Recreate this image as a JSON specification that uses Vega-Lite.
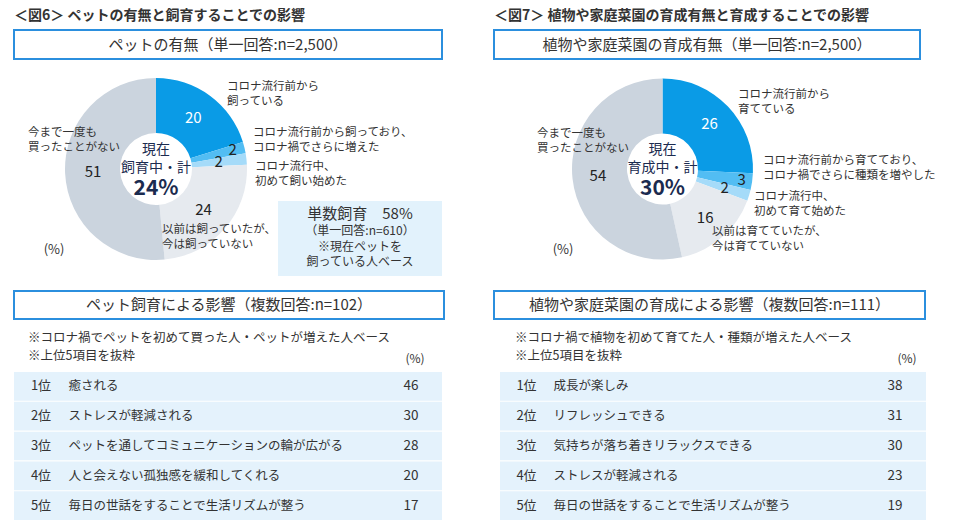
{
"$schema": "https://vega.github.io/schema/vega-lite/v6.json",
"background": "white",
"padding": {"left": 13, "top": 8, "right": 5, "bottom": 5},
"config": {
  "font": "Noto Sans CJK JP",
  "view": {"stroke": null},
  "text": {"color": "#333333"},
  "title": {"color": "#333333", "fontWeight": "normal", "fontSize": 13}
},
"datasets": {
  "pet_pie": [
    {"順序": 1, "区分": "コロナ流行前から飼っている", "割合": 20, "ラベル": "コロナ流行前から\n飼っている"},
    {"順序": 2, "区分": "コロナ流行前から飼っており、コロナ禍でさらに増えた", "割合": 2, "ラベル": "コロナ流行前から飼っており、\nコロナ禍でさらに増えた"},
    {"順序": 3, "区分": "コロナ流行中、初めて飼い始めた", "割合": 2, "ラベル": "コロナ流行中、\n初めて飼い始めた"},
    {"順序": 4, "区分": "以前は飼っていたが、今は飼っていない", "割合": 24, "ラベル": "以前は飼っていたが、\n今は飼っていない"},
    {"順序": 5, "区分": "今まで一度も買ったことがない", "割合": 51, "ラベル": "今まで一度も\n買ったことがない"}
  ],
  "plant_pie": [
    {"順序": 1, "区分": "コロナ流行前から育てている", "割合": 26, "ラベル": "コロナ流行前から\n育てている"},
    {"順序": 2, "区分": "コロナ流行前から育てており、コロナ禍でさらに種類を増やした", "割合": 3, "ラベル": "コロナ流行前から育てており、\nコロナ禍でさらに種類を増やした"},
    {"順序": 3, "区分": "コロナ流行中、初めて育て始めた", "割合": 2, "ラベル": "コロナ流行中、\n初めて育て始めた"},
    {"順序": 4, "区分": "以前は育てていたが、今は育てていない", "割合": 16, "ラベル": "以前は育てていたが、\n今は育てていない"},
    {"順序": 5, "区分": "今まで一度も買ったことがない", "割合": 54, "ラベル": "今まで一度も\n買ったことがない"}
  ],
  "pet_top5": [
    {"順位": "1位", "項目": "癒される", "割合": 46},
    {"順位": "2位", "項目": "ストレスが軽減される", "割合": 30},
    {"順位": "3位", "項目": "ペットを通してコミュニケーションの輪が広がる", "割合": 28},
    {"順位": "4位", "項目": "人と会えない孤独感を緩和してくれる", "割合": 20},
    {"順位": "5位", "項目": "毎日の世話をすることで生活リズムが整う", "割合": 17}
  ],
  "plant_top5": [
    {"順位": "1位", "項目": "成長が楽しみ", "割合": 38},
    {"順位": "2位", "項目": "リフレッシュできる", "割合": 31},
    {"順位": "3位", "項目": "気持ちが落ち着きリラックスできる", "割合": 30},
    {"順位": "4位", "項目": "ストレスが軽減される", "割合": 23},
    {"順位": "5位", "項目": "毎日の世話をすることで生活リズムが整う", "割合": 19}
  ]
},
"hconcat": [
  {
    "vconcat": [
      {
        "vconcat": [
          {
            "width": 428, "height": 29,
            "view": {"stroke": "#2b8fde", "strokeWidth": 2, "fill": "white"},
            "title": {"text": "＜図6＞ ペットの有無と飼育することでの影響", "anchor": "start", "offset": 7, "fontSize": 14, "fontWeight": "bold", "color": "#333333"},
            "data": {"values": [{"見出し": "ペットの有無（単一回答:n=2,500）"}]},
            "mark": {"type": "text", "fontSize": 15},
            "encoding": {"text": {"field": "見出し", "type": "nominal"}}
          },
          {
            "hconcat": [
              {"width": 20, "height": 214, "data": {"values": [{}]}, "mark": {"type": "text", "text": ""}},
              {
                "width": 244, "height": 214,
                "data": {"name": "pet_pie"},
                "layer": [
                  {"mark": {"type": "arc", "outerRadius": 91, "innerRadius": 36},
                   "encoding": {"theta": {"field": "割合", "type": "quantitative", "stack": true}, "order": {"field": "順序", "type": "quantitative"},
                     "color": {"field": "順序", "type": "ordinal", "scale": {"domain": [1, 2, 3, 4, 5], "range": ["#0a9be6", "#52bdf3", "#a5dbf9", "#e6eaef", "#cbd4de"]}, "legend": null}}},
                  {"mark": {"type": "text", "radius": 63, "fontSize": 15},
                   "encoding": {"theta": {"field": "割合", "type": "quantitative", "stack": true}, "order": {"field": "順序", "type": "quantitative"}, "detail": {"field": "順序", "type": "nominal"},
                     "text": {"condition": {"test": "datum['順序'] === 2", "value": ""}, "field": "割合", "type": "quantitative"},
                     "color": {"condition": {"test": "datum['順序'] === 1", "value": "#ffffff"}, "value": "#222222"}}},
                  {"mark": {"type": "text", "radius": 79, "fontSize": 15, "color": "#222222"},
                   "encoding": {"theta": {"field": "割合", "type": "quantitative", "stack": true}, "order": {"field": "順序", "type": "quantitative"}, "detail": {"field": "順序", "type": "nominal"},
                     "text": {"condition": {"test": "datum['順序'] !== 2", "value": ""}, "field": "割合", "type": "quantitative"}}},
                  {"transform": [{"stack": "割合", "groupby": [], "sort": [{"field": "順序", "order": "ascending"}], "as": ["始", "終"]}, {"filter": "datum['順序'] === 1"}],
                   "mark": {"type": "text", "radius": 100, "align": "left", "fontSize": 11.5, "lineBreak": "\n", "lineHeight": 15, "dx": 71, "dy": 18},
                   "encoding": {"theta": {"field": "始", "type": "quantitative", "stack": null}, "text": {"field": "ラベル", "type": "nominal"}}},
                  {"transform": [{"stack": "割合", "groupby": [], "sort": [{"field": "順序", "order": "ascending"}], "as": ["始", "終"]}, {"filter": "datum['順序'] === 2"}],
                   "mark": {"type": "text", "radius": 100, "align": "left", "fontSize": 11.5, "lineBreak": "\n", "lineHeight": 15, "dx": 1.5, "dy": -6.3},
                   "encoding": {"theta": {"field": "始", "type": "quantitative", "stack": null}, "text": {"field": "ラベル", "type": "nominal"}}},
                  {"transform": [{"stack": "割合", "groupby": [], "sort": [{"field": "順序", "order": "ascending"}], "as": ["始", "終"]}, {"filter": "datum['順序'] === 3"}],
                   "mark": {"type": "text", "radius": 100, "align": "left", "fontSize": 11.5, "lineBreak": "\n", "lineHeight": 15, "dx": 0.5, "dy": 15.4},
                   "encoding": {"theta": {"field": "始", "type": "quantitative", "stack": null}, "text": {"field": "ラベル", "type": "nominal"}}},
                  {"transform": [{"stack": "割合", "groupby": [], "sort": [{"field": "順序", "order": "ascending"}], "as": ["始", "終"]}, {"filter": "datum['順序'] === 4"}],
                   "mark": {"type": "text", "radius": 62, "align": "left", "fontSize": 11.5, "lineBreak": "\n", "lineHeight": 15, "dx": 0, "dy": -0.7},
                   "encoding": {"theta": {"field": "終", "type": "quantitative", "stack": null}, "text": {"field": "ラベル", "type": "nominal"}}},
                  {"transform": [{"filter": "datum['順序'] === 5"}],
                   "mark": {"type": "text", "align": "left", "fontSize": 11.5, "lineBreak": "\n", "lineHeight": 15, "dx": -128, "dy": -36},
                   "encoding": {"text": {"field": "ラベル", "type": "nominal"}}},
                  {"data": {"values": [{"見出し": "現在\n飼育中・計", "合計": "24%", "単位": "(%)"}]},
                   "mark": {"type": "text", "fontSize": 14, "lineBreak": "\n", "lineHeight": 18.5, "dy": -19.5, "color": "#1b2b4f"},
                   "encoding": {"text": {"field": "見出し", "type": "nominal"}}},
                  {"data": {"values": [{"見出し": "現在\n飼育中・計", "合計": "24%", "単位": "(%)"}]},
                   "mark": {"type": "text", "fontSize": 21, "fontWeight": "bold", "dy": 19.5, "color": "#1b2b4f"},
                   "encoding": {"text": {"field": "合計", "type": "nominal"}}},
                  {"data": {"values": [{"見出し": "現在\n飼育中・計", "合計": "24%", "単位": "(%)"}]},
                   "mark": {"type": "text", "fontSize": 13, "dx": -102, "dy": 81},
                   "encoding": {"text": {"field": "単位", "type": "nominal"}}}
                ]
              },
              {
                "width": 164, "height": 214,
                "data": {"values": [{"見出し": "単数飼育　58%", "注記": "（単一回答:n=610）\n※現在ペットを\n飼っている人ベース"}]},
                "encoding": {"y": {"datum": "本体", "type": "nominal", "scale": {"domain": ["余白", "本体"], "paddingInner": 0.4604, "paddingOuter": 0}, "axis": null}},
                "layer": [
                  {"mark": {"type": "rect", "color": "#e2f2fc"}},
                  {"mark": {"type": "text", "fontSize": 15, "dy": -24}, "encoding": {"text": {"field": "見出し", "type": "nominal"}}},
                  {"mark": {"type": "text", "fontSize": 12, "dy": -7, "lineBreak": "\n", "lineHeight": 15.5}, "encoding": {"text": {"field": "注記", "type": "nominal"}}}
                ]
              }
            ],
            "spacing": 0, "bounds": "flush"
          }
        ],
        "spacing": 2
      },
      {
        "vconcat": [
          {
            "width": 430, "height": 28,
            "view": {"stroke": "#2b8fde", "strokeWidth": 2, "fill": "white"},
            "data": {"values": [{"見出し": "ペット飼育による影響（複数回答:n=102）"}]},
            "mark": {"type": "text", "fontSize": 15},
            "encoding": {"text": {"field": "見出し", "type": "nominal"}}
          },
          {
            "hconcat": [
              {
                "width": 54, "height": 148,
                "data": {"name": "pet_top5"},
                "title": {"text": ["※コロナ禍でペットを初めて買った人・ペットが増えた人ベース", "※上位5項目を抜粋"], "anchor": "start", "dx": 14, "offset": 10, "fontSize": 12.5, "lineHeight": 18},
                "encoding": {"y": {"field": "順位", "type": "nominal", "sort": null, "axis": null, "scale": {"paddingInner": 0.04, "paddingOuter": 0}}},
                "layer": [
                  {"mark": {"type": "rect", "color": "#e4f2fc"}},
                  {"mark": {"type": "text", "fontSize": 13}, "encoding": {"text": {"field": "順位", "type": "nominal"}}}
                ]
              },
              {
                "width": 312, "height": 148,
                "data": {"name": "pet_top5"},
                "mark": {"type": "rect", "color": "#e4f2fc"},
                "encoding": {"y": {"field": "項目", "type": "nominal", "sort": null, "scale": {"paddingInner": 0.04, "paddingOuter": 0},
                  "axis": {"title": null, "domain": false, "ticks": false, "labelAlign": "left", "labelPadding": 0, "labelFontSize": 12.5, "labelColor": "#333333", "labelLimit": 400, "zindex": 1, "labelBaseline": "middle"}}}
              },
              {
                "width": 62, "height": 148,
                "data": {"name": "pet_top5"},
                "title": {"text": "(%)", "anchor": "middle", "dx": 4, "offset": 6, "fontSize": 12},
                "encoding": {"y": {"field": "順位", "type": "nominal", "sort": null, "axis": null, "scale": {"paddingInner": 0.04, "paddingOuter": 0}}},
                "layer": [
                  {"mark": {"type": "rect", "color": "#e4f2fc"}},
                  {"mark": {"type": "text", "fontSize": 13.5}, "encoding": {"text": {"field": "割合", "type": "quantitative"}}}
                ]
              }
            ],
            "spacing": 0, "bounds": "flush"
          }
        ],
        "spacing": 11
      }
    ],
    "spacing": 14
  },
  {
    "vconcat": [
      {
        "vconcat": [
          {
            "width": 426, "height": 29,
            "view": {"stroke": "#2b8fde", "strokeWidth": 2, "fill": "white"},
            "title": {"text": "＜図7＞ 植物や家庭菜園の育成有無と育成することでの影響", "anchor": "start", "offset": 7, "fontSize": 14, "fontWeight": "bold", "color": "#333333"},
            "data": {"values": [{"見出し": "植物や家庭菜園の育成有無（単一回答:n=2,500）"}]},
            "mark": {"type": "text", "fontSize": 15},
            "encoding": {"text": {"field": "見出し", "type": "nominal"}}
          },
          {
            "width": 337, "height": 214,
            "data": {"name": "plant_pie"},
            "layer": [
              {"mark": {"type": "arc", "outerRadius": 90.5, "innerRadius": 35.5},
               "encoding": {"theta": {"field": "割合", "type": "quantitative", "stack": true}, "order": {"field": "順序", "type": "quantitative"},
                 "color": {"field": "順序", "type": "ordinal", "scale": {"domain": [1, 2, 3, 4, 5], "range": ["#0a9be6", "#52bdf3", "#a5dbf9", "#e6eaef", "#cbd4de"]}, "legend": null}}},
              {"mark": {"type": "text", "radius": 65, "fontSize": 15},
               "encoding": {"theta": {"field": "割合", "type": "quantitative", "stack": true}, "order": {"field": "順序", "type": "quantitative"}, "detail": {"field": "順序", "type": "nominal"},
                 "text": {"condition": {"test": "datum['順序'] === 2", "value": ""}, "field": "割合", "type": "quantitative"},
                 "color": {"condition": {"test": "datum['順序'] === 1", "value": "#ffffff"}, "value": "#222222"}}},
              {"mark": {"type": "text", "radius": 80, "fontSize": 15, "color": "#222222"},
               "encoding": {"theta": {"field": "割合", "type": "quantitative", "stack": true}, "order": {"field": "順序", "type": "quantitative"}, "detail": {"field": "順序", "type": "nominal"},
                 "text": {"condition": {"test": "datum['順序'] !== 2", "value": ""}, "field": "割合", "type": "quantitative"}}},
              {"transform": [{"stack": "割合", "groupby": [], "sort": [{"field": "順序", "order": "ascending"}], "as": ["始", "終"]}, {"filter": "datum['順序'] === 1"}],
               "mark": {"type": "text", "radius": 100, "align": "left", "fontSize": 11.5, "lineBreak": "\n", "lineHeight": 15, "dx": 75.5, "dy": 26},
               "encoding": {"theta": {"field": "始", "type": "quantitative", "stack": null}, "text": {"field": "ラベル", "type": "nominal"}}},
              {"transform": [{"stack": "割合", "groupby": [], "sort": [{"field": "順序", "order": "ascending"}], "as": ["始", "終"]}, {"filter": "datum['順序'] === 2"}],
               "mark": {"type": "text", "radius": 100, "align": "left", "fontSize": 11.5, "lineBreak": "\n", "lineHeight": 15, "dx": 0.6, "dy": -12.7},
               "encoding": {"theta": {"field": "始", "type": "quantitative", "stack": null}, "text": {"field": "ラベル", "type": "nominal"}}},
              {"transform": [{"stack": "割合", "groupby": [], "sort": [{"field": "順序", "order": "ascending"}], "as": ["始", "終"]}, {"filter": "datum['順序'] === 3"}],
               "mark": {"type": "text", "radius": 100, "align": "left", "fontSize": 11.5, "lineBreak": "\n", "lineHeight": 15, "dx": -5.8, "dy": 4.9},
               "encoding": {"theta": {"field": "始", "type": "quantitative", "stack": null}, "text": {"field": "ラベル", "type": "nominal"}}},
              {"transform": [{"stack": "割合", "groupby": [], "sort": [{"field": "順序", "order": "ascending"}], "as": ["始", "終"]}, {"filter": "datum['順序'] === 4"}],
               "mark": {"type": "text", "radius": 62, "align": "left", "fontSize": 11.5, "lineBreak": "\n", "lineHeight": 15, "dx": 36, "dy": 2.5},
               "encoding": {"theta": {"field": "終", "type": "quantitative", "stack": null}, "text": {"field": "ラベル", "type": "nominal"}}},
              {"transform": [{"filter": "datum['順序'] === 5"}],
               "mark": {"type": "text", "align": "left", "fontSize": 11.5, "lineBreak": "\n", "lineHeight": 15, "dx": -125.5, "dy": -35},
               "encoding": {"text": {"field": "ラベル", "type": "nominal"}}},
              {"data": {"values": [{"見出し": "現在\n育成中・計", "合計": "30%", "単位": "(%)"}]},
               "mark": {"type": "text", "fontSize": 14, "lineBreak": "\n", "lineHeight": 18.5, "dy": -19.5, "color": "#1b2b4f"},
               "encoding": {"text": {"field": "見出し", "type": "nominal"}}},
              {"data": {"values": [{"見出し": "現在\n育成中・計", "合計": "30%", "単位": "(%)"}]},
               "mark": {"type": "text", "fontSize": 21, "fontWeight": "bold", "dy": 19.5, "color": "#1b2b4f"},
               "encoding": {"text": {"field": "合計", "type": "nominal"}}},
              {"data": {"values": [{"見出し": "現在\n育成中・計", "合計": "30%", "単位": "(%)"}]},
               "mark": {"type": "text", "fontSize": 13, "dx": -99.5, "dy": 81},
               "encoding": {"text": {"field": "単位", "type": "nominal"}}}
            ]
          }
        ],
        "spacing": 2
      },
      {
        "vconcat": [
          {
            "width": 431, "height": 28,
            "view": {"stroke": "#2b8fde", "strokeWidth": 2, "fill": "white"},
            "data": {"values": [{"見出し": "植物や家庭菜園の育成による影響（複数回答:n=111）"}]},
            "mark": {"type": "text", "fontSize": 15},
            "encoding": {"text": {"field": "見出し", "type": "nominal"}}
          },
          {
            "hconcat": [
              {"width": 6, "height": 148, "data": {"values": [{}]}, "mark": {"type": "text", "text": ""}},
              {
                "width": 53, "height": 148,
                "data": {"name": "plant_top5"},
                "title": {"text": ["※コロナ禍で植物を初めて育てた人・種類が増えた人ベース", "※上位5項目を抜粋"], "anchor": "start", "dx": 15, "offset": 10, "fontSize": 12.5, "lineHeight": 18},
                "encoding": {"y": {"field": "順位", "type": "nominal", "sort": null, "axis": null, "scale": {"paddingInner": 0.04, "paddingOuter": 0}}},
                "layer": [
                  {"mark": {"type": "rect", "color": "#e4f2fc"}},
                  {"mark": {"type": "text", "fontSize": 13}, "encoding": {"text": {"field": "順位", "type": "nominal"}}}
                ]
              },
              {
                "width": 311, "height": 148,
                "data": {"name": "plant_top5"},
                "mark": {"type": "rect", "color": "#e4f2fc"},
                "encoding": {"y": {"field": "項目", "type": "nominal", "sort": null, "scale": {"paddingInner": 0.04, "paddingOuter": 0},
                  "axis": {"title": null, "domain": false, "ticks": false, "labelAlign": "left", "labelPadding": 0, "labelFontSize": 12.5, "labelColor": "#333333", "labelLimit": 400, "zindex": 1, "labelBaseline": "middle"}}}
              },
              {
                "width": 62, "height": 148,
                "data": {"name": "plant_top5"},
                "title": {"text": "(%)", "anchor": "middle", "dx": 12, "offset": 6, "fontSize": 12},
                "encoding": {"y": {"field": "順位", "type": "nominal", "sort": null, "axis": null, "scale": {"paddingInner": 0.04, "paddingOuter": 0}}},
                "layer": [
                  {"mark": {"type": "rect", "color": "#e4f2fc"}},
                  {"mark": {"type": "text", "fontSize": 13.5}, "encoding": {"text": {"field": "割合", "type": "quantitative"}}}
                ]
              }
            ],
            "spacing": 0, "bounds": "flush"
          }
        ],
        "spacing": 11
      }
    ],
    "spacing": 14
  }
],
"spacing": 48
}
